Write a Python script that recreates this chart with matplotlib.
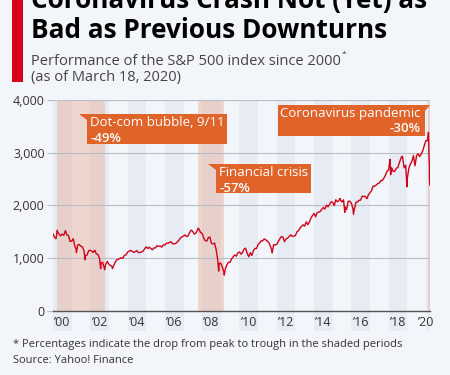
import datetime as dt
import matplotlib
matplotlib.use("Agg")
import matplotlib.pyplot as plt
from matplotlib.patches import Polygon
from matplotlib.ticker import FuncFormatter

# ---------------- data ----------------
# S&P 500 month-end closes, Jan 2000 .. Feb 2020
monthly_close = [
    1394, 1366, 1499, 1452, 1421, 1455, 1431, 1518, 1437, 1429, 1315, 1320,
    1366, 1240, 1160, 1249, 1256, 1224, 1211, 1134, 1041, 1060, 1139, 1148,
    1130, 1107, 1147, 1077, 1067, 990, 912, 916, 815, 886, 936, 880,
    856, 841, 848, 917, 964, 975, 990, 1008, 996, 1051, 1058, 1112,
    1131, 1145, 1126, 1107, 1121, 1141, 1102, 1104, 1115, 1130, 1174, 1212,
    1181, 1204, 1181, 1157, 1192, 1191, 1234, 1220, 1229, 1207, 1249, 1248,
    1280, 1281, 1295, 1311, 1270, 1270, 1277, 1304, 1336, 1378, 1401, 1418,
    1438, 1407, 1421, 1482, 1531, 1503, 1455, 1474, 1527, 1549, 1481, 1468,
    1379, 1331, 1323, 1386, 1400, 1280, 1267, 1283, 1165, 969, 896, 903,
    826, 735, 798, 873, 919, 919, 987, 1021, 1057, 1036, 1096, 1115,
    1074, 1104, 1169, 1187, 1089, 1031, 1102, 1049, 1141, 1183, 1181, 1258,
    1286, 1327, 1326, 1364, 1345, 1321, 1292, 1219, 1131, 1253, 1247, 1258,
    1312, 1366, 1408, 1398, 1310, 1362, 1379, 1407, 1441, 1412, 1416, 1426,
    1498, 1515, 1569, 1598, 1631, 1606, 1686, 1633, 1682, 1757, 1806, 1848,
    1783, 1859, 1872, 1884, 1924, 1960, 1931, 2003, 1972, 2018, 2068, 2059,
    1995, 2105, 2068, 2086, 2107, 2063, 2104, 1972, 1920, 2079, 2080, 2044,
    1940, 1932, 2060, 2065, 2097, 2099, 2174, 2171, 2168, 2126, 2199, 2239,
    2279, 2364, 2363, 2384, 2412, 2423, 2470, 2472, 2519, 2575, 2648, 2674,
    2824, 2714, 2641, 2648, 2705, 2718, 2816, 2902, 2914, 2712, 2760, 2507,
    2704, 2784, 2834, 2946, 2752, 2942, 2980, 2926, 2977, 3038, 3141, 3231,
    3226, 2954,
]
first_month = (2000, 1)

# intra-month highs / lows visible on the chart
event_dates = [
    "2000-01-03", "2000-03-24", "2000-09-01", "2001-04-04", "2001-09-21",
    "2002-07-23", "2002-10-09", "2003-03-11", "2007-10-09", "2008-11-20",
    "2009-03-09", "2010-07-02", "2011-04-29", "2011-10-03", "2015-05-21",
    "2015-08-25", "2016-02-11", "2018-01-26", "2018-02-08", "2018-09-20",
    "2018-12-24", "2020-02-19", "2020-03-09", "2020-03-12", "2020-03-13",
    "2020-03-16", "2020-03-17", "2020-03-18",
]
event_values = [
    1455, 1527, 1521, 1103, 966,
    797, 777, 800, 1565, 752,
    677, 1023, 1364, 1099, 2131,
    1868, 1829, 2873, 2581, 2931,
    2351, 3386, 2747, 2481, 2711,
    2386, 2529, 2398,
]

crash_labels = ["Dot-com bubble, 9/11", "Financial crisis", "Coronavirus pandemic"]
crash_drops = ["-49%", "-57%", "-30%"]
crash_starts = ["2000-03-24", "2007-10-09", "2020-02-19"]
crash_ends = ["2002-10-09", "2009-03-09", "2020-03-18"]

year_ticks = list(range(2000, 2021, 2))
year_tick_labels = ["\u2019%02d" % (y % 100) for y in year_ticks]
y_ticks = [0, 1000, 2000, 3000, 4000]

title_lines = ["Coronavirus Crash Not (Yet) as", "Bad as Previous Downturns"]
subtitle_lines = ["Performance of the S&P 500 index since 2000", "(as of March 18, 2020)"]
footer_lines = ["* Percentages indicate the drop from peak to trough in the shaded periods",
                "Source: Yahoo! Finance"]


def dec_year(d):
    start = dt.date(d.year, 1, 1)
    end = dt.date(d.year + 1, 1, 1)
    return d.year + (d - start).days / (end - start).days


def parse(s):
    return dt.date.fromisoformat(s)


points = []
y0, m0 = first_month
for i, v in enumerate(monthly_close):
    y = y0 + (m0 - 1 + i) // 12
    m = (m0 - 1 + i) % 12 + 1
    nxt = dt.date(y + (m // 12), m % 12 + 1, 1)
    last = nxt - dt.timedelta(days=1)
    points.append((dec_year(last), v))
for s, v in zip(event_dates, event_values):
    points.append((dec_year(parse(s)), v))
points.sort()
xs = [p[0] for p in points]
ys = [p[1] for p in points]

# ---------------- style ----------------
BG = "#f2f5f9"
BAND = "#e7ecf4"
SHADE = "#e8a58e"
ORANGE = "#e0632a"
RED = "#d0021b"
GRID = "#b9bec6"
TXT = "#333333"
FONT = ["Open Sans", "DejaVu Sans"]
plt.rcParams["font.family"] = FONT

W, H = 450, 375
fig = plt.figure(figsize=(W / 100, H / 100), dpi=100)
fig.patch.set_facecolor(BG)


def fx(px):
    return px / W


def fy(py):
    return 1 - py / H


ax_left, ax_right, ax_top, ax_bottom = 53, 430, 100, 310.7
ax = fig.add_axes([fx(ax_left), fy(ax_bottom), (ax_right - ax_left) / W, (ax_bottom - ax_top) / H])
ax.set_facecolor("none")

xmax = dec_year(parse(crash_ends[-1])) + 0.005
ax.set_xlim(2000, xmax)
ax.set_ylim(0, 4000)

# alternating year bands (extend below axis behind the labels)
below = -20 / (ax_bottom - ax_top)
for y in year_ticks:
    ax.axvspan(y, min(y + 1, xmax), ymin=below, ymax=1, color=BAND, lw=0, zorder=0, clip_on=False)

# crash shading
for s, e in zip(crash_starts, crash_ends):
    ax.axvspan(dec_year(parse(s)), min(dec_year(parse(e)), xmax), color=SHADE, alpha=0.4, lw=0, zorder=0.3)

ax.set_axisbelow(True)
ax.yaxis.grid(True, color=GRID, lw=0.8)
ax.set_yticks(y_ticks)
ax.yaxis.set_major_formatter(FuncFormatter(lambda v, p: f"{int(v):,}"))
ax.tick_params(axis="y", length=4, width=0.8, color=GRID, labelsize=9, labelcolor=TXT, pad=2)

tick_pos = [y + 0.5 for y in year_ticks[:-1]] + [year_ticks[-1] - 0.01]
ax.set_xticks(tick_pos)
ax.set_xticklabels(year_tick_labels)
ax.tick_params(axis="x", length=0, labelsize=9, labelcolor=TXT, pad=4)

for sp in ["top", "right", "left"]:
    ax.spines[sp].set_visible(False)
ax.spines["bottom"].set_color("#555555")
ax.spines["bottom"].set_linewidth(1.0)
ax.spines["bottom"].set_zorder(3)

ax.plot(xs, ys, color=RED, lw=1.0, zorder=2, solid_joinstyle="round")

# annotation boxes (pixel geometry -> data)
def dx(px):
    return 2000 + (px - ax_left) / ((ax_right - ax_left) / (xmax - 2000))


def dy(py):
    return (ax_bottom - py) / (ax_bottom - ax_top) * 4000


box_geom = [  # left, right, top, bottom, tab side
    (86.7, 227, 114, 144, "left"),
    (215.7, 311, 164, 193, "left"),
    (278, 425, 105, 136, "right"),
]
for (l, r, t, b, side), lab, drop in zip(box_geom, crash_labels, crash_drops):
    if side == "left":
        verts = [(l - 7.5, t), (r, t), (r, b), (l, b), (l, t + 6)]
        tx, ha = l + 3.5, "left"
    else:
        verts = [(l, t), (r + 5, t), (r, t + 6), (r, b), (l, b)]
        tx, ha = r - 5, "right"
    poly = Polygon([(dx(a), dy(c)) for a, c in verts], closed=True, facecolor=ORANGE,
                   edgecolor="none", zorder=4, clip_on=False)
    ax.add_patch(poly)
    ax.text(dx(tx), dy(t + 12.5), lab, color="white", fontsize=9.5, ha=ha, va="baseline", zorder=5)
    ax.text(dx(tx), dy(t + 27.5), drop, color="white", fontsize=9.5, fontweight="semibold",
            ha=ha, va="baseline", zorder=5)

# ---------------- header / footer ----------------
fig.patches.append(plt.Rectangle((fx(12), fy(82)), 11 / W, 82 / H, transform=fig.transFigure,
                                 facecolor="#d6001c", edgecolor="none"))
fig.text(fx(31), fy(8), title_lines[0], fontsize=18.8, fontweight="bold", color="black", va="baseline")
fig.text(fx(31), fy(37.5), title_lines[1], fontsize=18.8, fontweight="bold", color="black", va="baseline")
st = fig.text(fx(31), fy(65), subtitle_lines[0], fontsize=10.5, color="#444444", va="baseline")
fig.text(fx(31), fy(81), subtitle_lines[1], fontsize=10.5, color="#444444", va="baseline")
fig.canvas.draw()
bb = st.get_window_extent(fig.canvas.get_renderer())
fig.text(bb.x1 / W + 1 / W, fy(56), "*", fontsize=6, color="#444444", va="baseline")

fig.text(fx(13), fy(347), footer_lines[0], fontsize=8.0, color=TXT, va="baseline")
fig.text(fx(13), fy(363), footer_lines[1], fontsize=8.0, color=TXT, va="baseline")

fig.savefig("out.png", dpi=100, facecolor=BG)
